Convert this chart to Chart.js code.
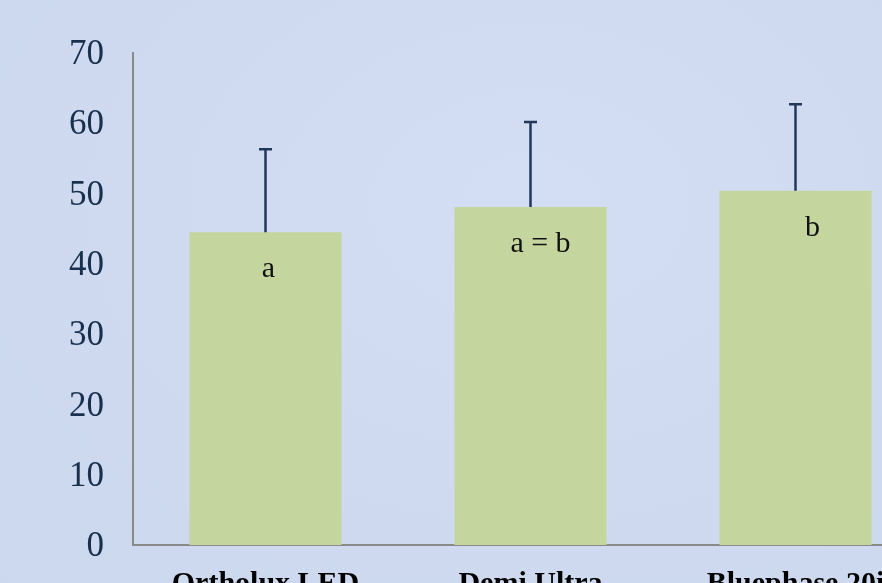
<!DOCTYPE html>
<html>
<head>
<meta charset="utf-8">
<script src="https://cdn.jsdelivr.net/npm/chart.js@4.4.0/dist/chart.umd.min.js"></script>
<style>
  html, body { margin: 0; padding: 0; overflow: hidden; width: 882px; height: 583px; }
  body { background: radial-gradient(ellipse at 60% 35%, #d3ddf4 0%, #cfdaf1 55%, #ccd8ee 100%); }
  #wrap { position: absolute; left: 0; top: 0; width: 960px; height: 630px; }
</style>
</head>
<body>
<div id="wrap"><canvas id="c" width="960" height="630"></canvas></div>
<script>
const categories = ['Ortholux LED', 'Demi Ultra', 'Bluephase 20i'];
const means = [44.5, 48.1, 50.4];
const sdUpper = [11.8, 12.1, 12.3];
const groupLabels = ['a', 'a = b', 'b'];
const yTicks = [0, 10, 20, 30, 40, 50, 60, 70];

const labelOffsetsX = [3, 10, 17];

const errorBarPlugin = {
  id: 'errorBars',
  afterDatasetsDraw(chart) {
    const ctx = chart.ctx;
    const meta = chart.getDatasetMeta(0);
    const y = chart.scales.y;
    ctx.save();
    meta.data.forEach((bar, i) => {
      const x = bar.x;
      const yTop = y.getPixelForValue(means[i] + sdUpper[i]);
      const yBase = y.getPixelForValue(means[i]);
      ctx.strokeStyle = '#22385a';
      ctx.lineWidth = 2.5;
      ctx.beginPath();
      ctx.moveTo(x, yBase);
      ctx.lineTo(x, yTop);
      ctx.moveTo(x - 6.5, yTop);
      ctx.lineTo(x + 6.5, yTop);
      ctx.stroke();
      // group labels
      ctx.fillStyle = '#111';
      ctx.font = '30px "Liberation Serif", "Times New Roman", serif';
      ctx.textAlign = 'center';
      ctx.textBaseline = 'middle';
      ctx.fillText(groupLabels[i], x + labelOffsetsX[i], yBase + 37);
    });
    ctx.restore();
  }
};

new Chart(document.getElementById('c'), {
  type: 'bar',
  data: {
    labels: categories,
    datasets: [{
      data: means,
      backgroundColor: '#c4d69d',
      borderWidth: 0,
      categoryPercentage: 1.0,
      barPercentage: 0.574
    }]
  },
  options: {
    responsive: false,
    animation: false,
    layout: { padding: { top: 53, right: 32, left: 0, bottom: 0 } },
    plugins: { legend: { display: false }, tooltip: { enabled: false } },
    scales: {
      x: {
        grid: { display: false, drawTicks: false },
        border: { display: true, color: '#8a8a8a', width: 2 },
        ticks: {
          padding: 21,
          color: '#000',
          font: { family: '"Liberation Serif", "Times New Roman", serif', size: 30, weight: 'bold' },
          maxRotation: 0
        },
        afterFit(scale) { scale.height = 85; }
      },
      y: {
        min: 0, max: 70,
        afterBuildTicks(scale) { scale.ticks = yTicks.map(v => ({ value: v })); },
        grid: { display: false, drawTicks: false },
        border: { display: true, color: '#8a8a8a', width: 2 },
        ticks: {
          padding: 29,
          labelOffset: 2,
          color: '#18304e',
          font: { family: '"Liberation Serif", "Times New Roman", serif', size: 35 }
        },
        afterFit(scale) { scale.width = 133; }
      }
    }
  },
  plugins: [errorBarPlugin]
});
</script>
</body>
</html>
